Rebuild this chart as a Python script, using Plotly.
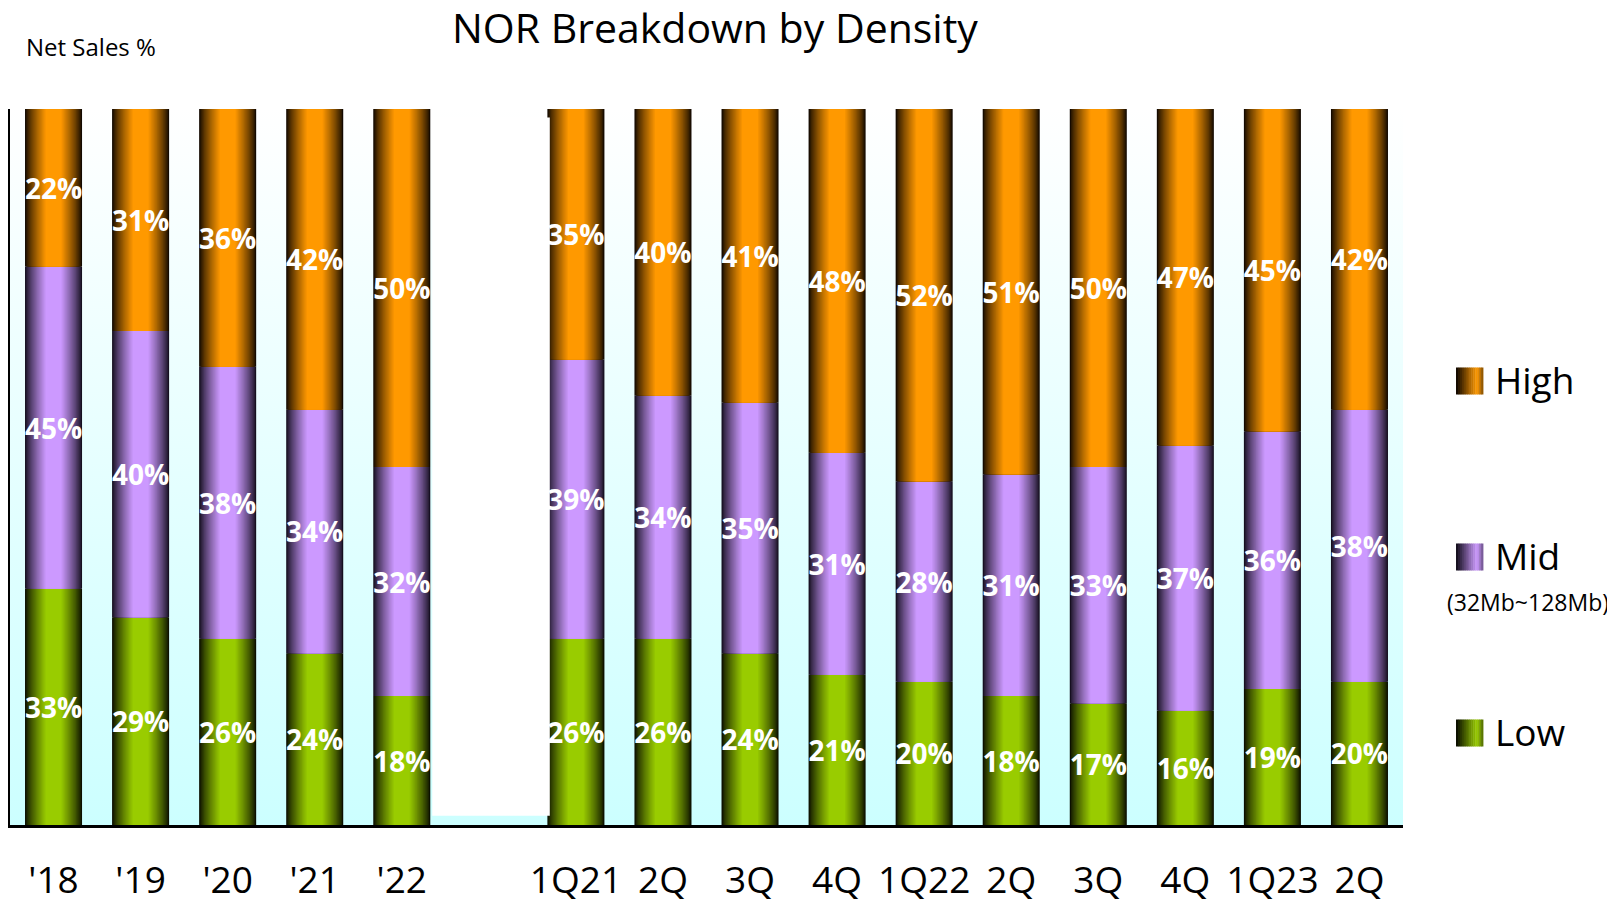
import base64
import plotly.graph_objects as go

# ---------------- data ----------------
categories = ["'18", "'19", "'20", "'21", "'22", "", "1Q21", "2Q", "3Q", "4Q",
              "1Q22", "2Q", "3Q", "4Q", "1Q23", "2Q"]
low = [33, 29, 26, 24, 18, None, 26, 26, 24, 21, 20, 18, 17, 16, 19, 20]
mid = [45, 40, 38, 34, 32, None, 39, 34, 35, 31, 28, 31, 33, 37, 36, 38]
high = [22, 31, 36, 42, 50, None, 35, 40, 41, 48, 52, 51, 50, 47, 45, 42]
series_names = ["Low", "Mid", "High"]
gap_index = 5

# ---------------- styling ----------------
W, H = 1615, 899
OFF = 8  # page body margin
PL, PR, PT, PB = 10 - OFF, 1403 - OFF, 109 - OFF, 825 - OFF   # plot area in figure px
FONT = "Open Sans"
bright = {"Low": (153, 204, 0), "Mid": (204, 153, 255), "High": (255, 153, 0)}
dark = {"Low": (12, 16, 0), "Mid": (22, 16, 32), "High": (20, 10, 0)}
BAR_W = 0.655
N_LAYERS = 18


def mix(c0, c1, t):
    return "rgb(%d,%d,%d)" % tuple(round(a + (b - a) * t) for a, b in zip(c0, c1))


def px2x(px):
    return (px - OFF - PL) / (PR - PL)


def py2y(py):
    return (PB - (py - OFF)) / (PB - PT)


xs = list(range(len(categories)))
values = {"Low": low, "Mid": mid, "High": high}

fig = go.Figure()

# stacked bars with a cylinder-like gradient (nested overlay bars)
bases = [0 if v is not None else None for v in low]
for name in series_names:
    vals = values[name]
    for k in range(N_LAYERS):
        t = k / (N_LAYERS - 1)
        frac = 1 - 0.72 * t
        color = mix(dark[name], bright[name], t ** 0.8)
        last = k == N_LAYERS - 1
        fig.add_trace(go.Bar(
            x=xs, y=vals, base=bases, width=BAR_W * frac,
            marker=dict(color=color, line=dict(width=0)),
            showlegend=False, hoverinfo="skip",
            text=[f"{v}%" if v is not None else "" for v in vals] if last else None,
            textposition="inside" if last else None,
            insidetextanchor="middle",
            constraintext="none",
            textangle=0,
            textfont=dict(family=FONT, size=28, color="white", weight="bold"),
            cliponaxis=False,
        ))
    bases = [b + v if v is not None else None for b, v in zip(bases, vals)]

# background gradient for plot area
svg = ('<svg xmlns="http://www.w3.org/2000/svg" width="100" height="100" '
       'preserveAspectRatio="none"><defs><linearGradient id="g" x1="0" y1="0" '
       'x2="0" y2="1"><stop offset="0" stop-color="#ffffff"/>'
       '<stop offset="1" stop-color="#ccffff"/></linearGradient></defs>'
       '<rect width="100" height="100" fill="url(#g)"/></svg>')
src = "data:image/svg+xml;base64," + base64.b64encode(svg.encode()).decode()

shapes = []
# white block in gap slot
shapes.append(dict(type="rect", xref="x", yref="y",
                   x0=gap_index - 0.65, x1=gap_index + 0.7, y0=1.3, y1=98.8,
                   fillcolor="white", line=dict(width=0), layer="above"))

# legend squares with gradient stripes
legend_items = [("High", 381), ("Mid", 557), ("Low", 733)]
annotations = []
for name, cy in legend_items:
    x0, x1 = 1456, 1483
    n = 14
    for j in range(n):
        a = x0 + (x1 - x0) * j / n
        b = x0 + (x1 - x0) * (j + 1) / n
        t = j / (n - 1)
        if t < 0.8:
            tt = t / 0.8
        else:
            tt = 1 - (t - 0.8) / 0.2 * 0.45
        shapes.append(dict(type="rect", xref="paper", yref="paper",
                           x0=px2x(a), x1=px2x(b) + 0.0003,
                           y0=py2y(cy + 13.5), y1=py2y(cy - 13.5),
                           fillcolor=mix(dark[name], bright[name], tt),
                           line=dict(width=0), layer="above"))
    annotations.append(dict(text=name, xref="paper", yref="paper",
                            x=px2x(1493), y=py2y(cy - 2), xanchor="left", yanchor="middle",
                            showarrow=False, font=dict(family=FONT, size=37, color="black")))

annotations.append(dict(text="(32Mb~128Mb)", xref="paper", yref="paper",
                        x=px2x(1528), y=py2y(602), xanchor="center", yanchor="middle",
                        showarrow=False, font=dict(family=FONT, size=23, color="black")))
annotations.append(dict(text="NOR Breakdown by Density", xref="paper", yref="paper",
                        x=px2x(715), y=py2y(27), xanchor="center", yanchor="middle",
                        showarrow=False, font=dict(family=FONT, size=41, color="black")))
annotations.append(dict(text="Net Sales %", xref="paper", yref="paper",
                        x=px2x(24), y=py2y(47), xanchor="left", yanchor="middle",
                        showarrow=False, font=dict(family=FONT, size=24, color="black")))

fig.update_layout(
    width=W, height=H, autosize=False,
    margin=dict(l=PL, r=W - PR, t=PT, b=H - PB, pad=0, autoexpand=False),
    barmode="overlay",
    paper_bgcolor="white",
    plot_bgcolor="rgba(0,0,0,0)",
    showlegend=False,
    shapes=shapes,
    annotations=annotations,
    images=[dict(source=src, xref="paper", yref="paper", x=0, y=1, sizex=1, sizey=1,
                 sizing="stretch", xanchor="left", yanchor="top", layer="below")],
    xaxis=dict(range=[-0.5, len(categories) - 0.5], tickmode="array", tickvals=xs,
               ticktext=categories, showgrid=False, zeroline=False, showline=True,
               linecolor="black", linewidth=3, ticks="", ticklabelstandoff=21,
               automargin=False,
               tickfont=dict(family=FONT, size=37, color="black"), fixedrange=True),
    yaxis=dict(range=[0, 100], showgrid=False, zeroline=False, showline=True,
               linecolor="black", linewidth=2, showticklabels=False, ticks="",
               automargin=False, fixedrange=True),
)

fig.write_html("out.html")
